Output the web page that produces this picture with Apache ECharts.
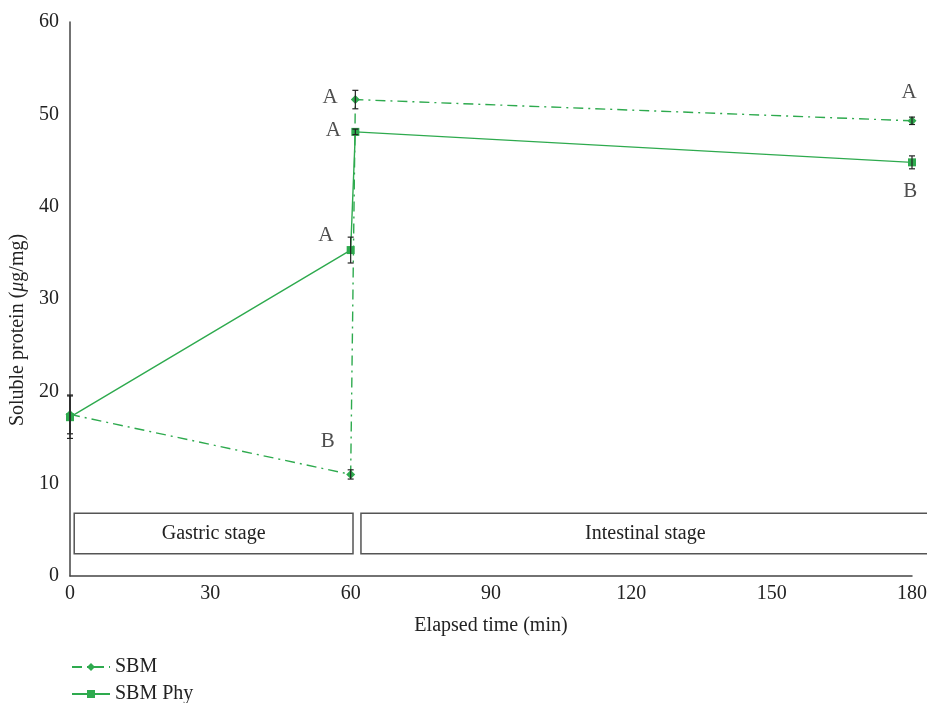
<!DOCTYPE html>
<html><head><meta charset="utf-8">
<script src="https://cdn.jsdelivr.net/npm/echarts@6/dist/echarts.min.js"></script>
<style>html,body{margin:0;padding:0;background:#fff}#c{width:927px;height:703px}</style>
</head><body><div id="c"></div>
<script>
const xTicks = [0, 30, 60, 90, 120, 150, 180];
const sbmX = [0, 60, 61, 180];
const sbmY = [17.5, 11.0, 51.6, 49.3];
const sbmErr = [2.1, 0.5, 1.0, 0.4];
const phyX = [0, 60, 61, 180];
const phyY = [17.2, 35.3, 48.1, 44.8];
const phyErr = [2.3, 1.4, 0.3, 0.7];
const letterText = ['A', 'A', 'A', 'B', 'A', 'B'];
const letterX = [55.6, 56.3, 54.7, 55.1, 179.4, 179.6];
const letterY = [51.8, 48.2, 36.9, 14.6, 52.4, 41.6];
const stageNames = ['Gastric stage', 'Intestinal stage'];
const stageStart = [0.9, 62.2];
const stageEnd = [60.5, 184];
const stageTop = 6.8, stageBottom = 2.4;

const GREEN = '#2eaa4e';
const FONT = 'Liberation Serif';
const FS = 20;
const chart = echarts.init(document.getElementById('c'));

const errData = [];
sbmX.forEach((x, i) => errData.push([x, sbmY[i] - sbmErr[i], sbmY[i] + sbmErr[i]]));
phyX.forEach((x, i) => errData.push([x, phyY[i] - phyErr[i], phyY[i] + phyErr[i]]));

const legendText = { fontFamily: FONT, fontSize: FS, color: '#222' };

chart.setOption({
  animation: false,
  textStyle: { fontFamily: FONT },
  grid: { left: 70, right: 15, top: 22, bottom: 127, outerBoundsMode: 'none', containLabel: false },
  legend: [
    { orient: 'vertical', left: 66, top: 652, itemWidth: 38, itemHeight: 10, textStyle: legendText, data: ['SBM'] },
    { orient: 'vertical', left: 66, top: 679, itemWidth: 38, itemHeight: 10, textStyle: legendText, data: ['SBM Phy'] }
  ],
  xAxis: {
    type: 'value', min: 0, max: 180, interval: 30,
    name: 'Elapsed time (min)', nameLocation: 'middle', nameGap: 40,
    nameTextStyle: { fontFamily: FONT, fontSize: FS, color: '#222' },
    axisLine: { show: true, lineStyle: { color: '#444', width: 1.5 } },
    axisTick: { show: false }, splitLine: { show: false },
    axisLabel: { fontFamily: FONT, fontSize: FS, color: '#222', margin: 8 }
  },
  yAxis: {
    type: 'value', min: 0, max: 60, interval: 10,
    name: 'Soluble protein ({i|μ}g/mg)', nameLocation: 'middle', nameGap: 38,
    nameTextStyle: { fontFamily: FONT, fontSize: FS, color: '#222', padding: [0, 62, 0, 0],
      rich: { i: { fontStyle: 'italic', fontFamily: FONT, fontSize: FS, color: '#222' } } },
    axisLine: { show: true, lineStyle: { color: '#444', width: 1.5 } },
    axisTick: { show: false }, splitLine: { show: false },
    axisLabel: { fontFamily: FONT, fontSize: FS, color: '#222', margin: 11 }
  },
  series: [
    {
      name: 'stages', type: 'custom', clip: false, silent: true, z: 1,
      data: stageNames.map((n, i) => [stageStart[i], stageTop, stageEnd[i], stageBottom]),
      renderItem: function (params, api) {
        const p1 = api.coord([api.value(0), api.value(1)]);
        const p2 = api.coord([api.value(2), api.value(3)]);
        const name = stageNames[params.dataIndex];
        return {
          type: 'group', children: [
            { type: 'rect', shape: { x: p1[0], y: p1[1], width: p2[0] - p1[0], height: p2[1] - p1[1] },
              style: { fill: '#fff', stroke: '#555', lineWidth: 1.5 } },
            { type: 'text', style: { text: name, x: params.dataIndex === 0 ? (p1[0] + p2[0]) / 2 : api.coord([123, 0])[0],
              y: (p1[1] + p2[1]) / 2, align: 'center', verticalAlign: 'middle',
              font: FS + 'px "Liberation Serif"', fill: '#222' } }
          ]
        };
      }
    },
    {
      name: 'SBM', type: 'line', z: 3,
      data: sbmX.map((x, i) => [x, sbmY[i]]),
      symbol: 'diamond', symbolSize: 9,
      itemStyle: { color: GREEN },
      lineStyle: { color: GREEN, width: 1.4, type: [10, 5, 2, 5] }
    },
    {
      name: 'SBM Phy', type: 'line', z: 3,
      data: phyX.map((x, i) => [x, phyY[i]]),
      symbol: 'rect', symbolSize: 8,
      itemStyle: { color: GREEN },
      lineStyle: { color: GREEN, width: 1.4 }
    },
    {
      name: 'err', type: 'custom', z: 4, silent: true,
      data: errData,
      renderItem: function (params, api) {
        const lo = api.coord([api.value(0), api.value(1)]);
        const hi = api.coord([api.value(0), api.value(2)]);
        const w = 3;
        const st = { stroke: '#222', lineWidth: 1.2 };
        return { type: 'group', children: [
          { type: 'line', shape: { x1: lo[0], y1: lo[1], x2: hi[0], y2: hi[1] }, style: st },
          { type: 'line', shape: { x1: lo[0] - w, y1: lo[1], x2: lo[0] + w, y2: lo[1] }, style: st },
          { type: 'line', shape: { x1: hi[0] - w, y1: hi[1], x2: hi[0] + w, y2: hi[1] }, style: st }
        ] };
      }
    },
    {
      name: 'letters', type: 'scatter', z: 5, silent: true, symbolSize: 1,
      itemStyle: { color: 'rgba(0,0,0,0)' },
      data: letterText.map((t, i) => ({ value: [letterX[i], letterY[i]], label: { formatter: t } })),
      label: { show: true, position: 'inside', fontFamily: FONT, fontSize: 21, color: '#222' }
    }
  ]
});
</script></body></html>
